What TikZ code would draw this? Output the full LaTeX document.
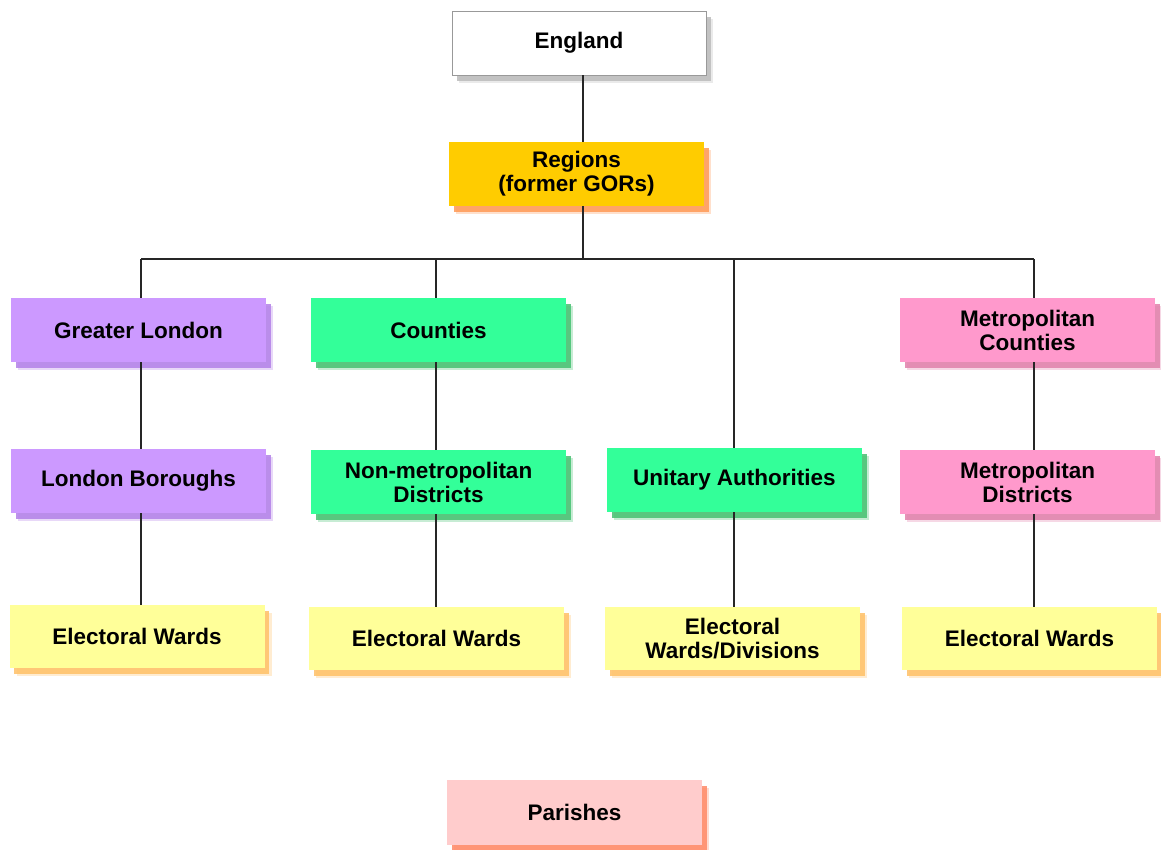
\documentclass[tikz,border=0pt]{standalone}
\usepackage{fontspec}
\setmainfont{Liberation Sans}
\usetikzlibrary{shadows}
\definecolor{engsh}{HTML}{BBBBBB}
\definecolor{regfill}{HTML}{FFCC00}
\definecolor{regsh}{HTML}{FF9955}
\definecolor{purfill}{HTML}{CC99FF}
\definecolor{pursh}{HTML}{B27FE8}
\definecolor{grnfill}{HTML}{33FF99}
\definecolor{grnsh}{HTML}{44C070}
\definecolor{pinkfill}{HTML}{FF99CC}
\definecolor{pinksh}{HTML}{E07FAA}
\definecolor{yelfill}{HTML}{FFFF99}
\definecolor{yelsh}{HTML}{FFC066}
\definecolor{parfill}{HTML}{FFCCCC}
\definecolor{parsh}{HTML}{FF8866}
\tikzset{
  box/.style={minimum width=255pt, minimum height=64pt, inner sep=0pt, align=center,
    font=\fontsize{22.5}{24}\selectfont\bfseries, text=black},
  sh/.style={
    drop shadow={shadow xshift=7pt, shadow yshift=-8pt, fill=#1, opacity=0.3},
    drop shadow={shadow xshift=4.5pt, shadow yshift=-5.5pt, fill=#1, opacity=0.85}},
  conn/.style={line width=1.5pt, black!85},
}
\begin{document}
\begin{tikzpicture}[x=1pt,y=-1pt]
\useasboundingbox (0,0) rectangle (1161,849);
\node[box, fill=white, draw=black!40, line width=0.8pt, sh=engsh, minimum width=254pt] (eng) at (579,43) {England};
\node[box, fill=regfill, sh=regsh] (reg) at (576.5,174) {Regions\\(former GORs)};
\node[box, fill=purfill, sh=pursh] (gl) at (138.5,330) {Greater London};
\node[box, fill=grnfill, sh=grnsh] (cty) at (438.5,330) {Counties};
\node[box, fill=pinkfill, sh=pinksh] (mc) at (1027.5,330) {Metropolitan\\Counties};
\node[box, fill=purfill, sh=pursh] (lb) at (138.5,481) {London Boroughs};
\node[box, fill=grnfill, sh=grnsh] (nmd) at (438.5,482) {Non-metropolitan\\Districts};
\node[box, fill=grnfill, sh=grnsh] (ua) at (734.5,480) {Unitary Authorities};
\node[box, fill=pinkfill, sh=pinksh] (md) at (1027.5,482) {Metropolitan\\Districts};
\node[box, fill=yelfill, sh=yelsh, minimum height=63pt] (ew1) at (137,636.5) {Electoral Wards};
\node[box, fill=yelfill, sh=yelsh, minimum height=63pt] (ew2) at (436.5,638.5) {Electoral Wards};
\node[box, fill=yelfill, sh=yelsh, minimum height=63pt] (ewd) at (732.5,638.5) {Electoral\\Wards/Divisions};
\node[box, fill=yelfill, sh=yelsh, minimum height=63pt] (ew4) at (1029.5,638.5) {Electoral Wards};
\node[box, fill=parfill, sh=parsh, minimum height=65pt] (par) at (574.5,812.5) {Parishes};
\coordinate (bus) at (583,259);
\coordinate (c1) at (141,259);
\coordinate (c2) at (436,259);
\coordinate (c3) at (734,259);
\coordinate (c4) at (1034,259);
\draw[conn] (eng.south -| bus) -- (reg.north -| bus);
\draw[conn] (reg.south -| bus) -- (bus);
\draw[conn] (c1) -- (c4);
\draw[conn] (c1) -- (gl.north -| c1);
\draw[conn] (c2) -- (cty.north -| c2);
\draw[conn] (c3) -- (ua.north -| c3);
\draw[conn] (c4) -- (mc.north -| c4);
\draw[conn] (gl.south -| c1) -- (lb.north -| c1);
\draw[conn] (lb.south -| c1) -- (ew1.north -| c1);
\draw[conn] (cty.south -| c2) -- (nmd.north -| c2);
\draw[conn] (nmd.south -| c2) -- (ew2.north -| c2);
\draw[conn] (ua.south -| c3) -- (ewd.north -| c3);
\draw[conn] (mc.south -| c4) -- (md.north -| c4);
\draw[conn] (md.south -| c4) -- (ew4.north -| c4);
\end{tikzpicture}
\end{document}
